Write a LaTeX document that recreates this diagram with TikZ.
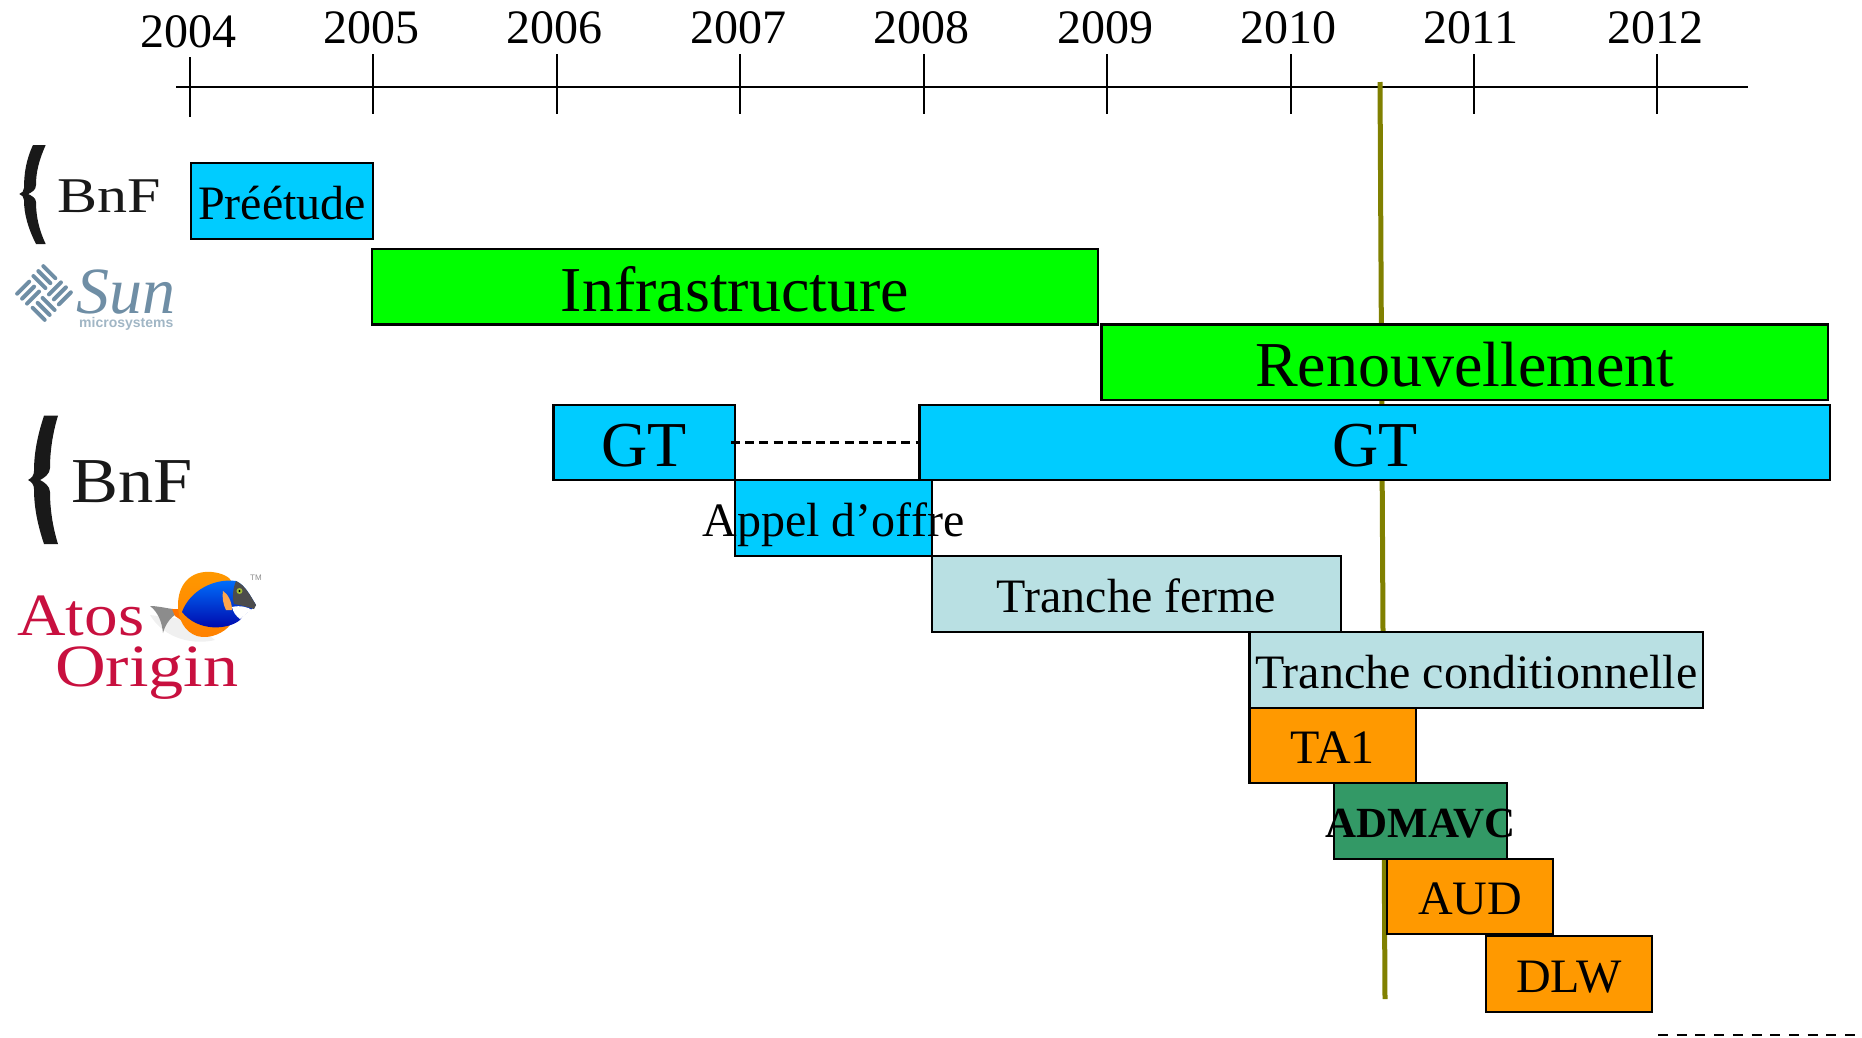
\documentclass[tikz,border=0pt]{standalone}
\usepackage{fontspec}
\setmainfont{Liberation Serif}
\newfontfamily\logosans{Liberation Sans}
\definecolor{barblue}{HTML}{00CCFF}
\definecolor{bargreen}{HTML}{00FF00}
\definecolor{barpale}{HTML}{B9E0E3}
\definecolor{barorange}{HTML}{FF9900}
\definecolor{bardark}{HTML}{339966}
\definecolor{todayline}{HTML}{808000}
\definecolor{suncol}{HTML}{6F8EA5}
\definecolor{atoscol}{HTML}{C8103F}
\newcommand{\fsmall}{\fontsize{48}{50}\selectfont}
\newcommand{\fbig}{\fontsize{64}{66}\selectfont}
\newcommand{\fbold}{\fontsize{43}{45}\selectfont\bfseries}
\newcommand{\ganttbar}[9]{%
  \pgfmathsetmacro{\gw}{#4-#2}\pgfmathsetmacro{\gh}{#5-#3}%
  \node[barbox,fill=#6,minimum width=\gw pt,minimum height=\gh pt,anchor=north west] (#1) at (#2,#3) {};
  \node[barlabel,font=#7] (#1text) at ({(#2+#4)/2},#8) {#9};
}
\tikzset{
  barbox/.style={draw=black,line width=2.4pt,inner sep=0pt,outer sep=0pt},
  barlabel/.style={anchor=base,inner sep=0pt,text=black},
  yearlabel/.style={anchor=base,inner sep=0pt,font=\fsmall},
  axisline/.style={draw=black,line width=2pt},
  dashline/.style={draw=black,line width=2.6pt},
  logotext/.style={anchor=base west,inner sep=0pt},
}
\begin{document}
\begin{tikzpicture}[x=1pt,y=-1pt]
\useasboundingbox (0,0) rectangle (1862,1037);
% time axis
\coordinate (axisL) at (176,87.3);
\coordinate (axisR) at (1748,87.3);
\draw[axisline] (axisL) -- (axisR);
\foreach \yr/\tx/\lx/\bl/\ta/\tb in {
  2004/190/188.5/47.5/57/117, 2005/373/371/43/54/114, 2006/557/554.6/43/54/114,
  2007/740/738/43/54/114, 2008/924/921.5/43/54/114, 2009/1107/1105/43/54/114,
  2010/1291/1288.5/43/54/114, 2011/1474/1471/43/54/114, 2012/1657/1655/43/54/114}{
  \node[yearlabel] (y\yr) at (\lx,\bl) {\yr};
  \coordinate (t\yr a) at (\tx,\ta);
  \coordinate (t\yr b) at (\tx,\tb);
  \draw[axisline] (t\yr a) -- (t\yr b);
}
% today line
\coordinate (todayT) at (1380,82);
\coordinate (todayB) at (1385,999);
\draw[todayline,line width=5pt] (todayT) -- (todayB);
% bars
\ganttbar{pre}{191}{163}{373}{239}{barblue}{\fsmall}{219}{Préétude}
\ganttbar{infra}{372}{249}{1098}{324.5}{bargreen}{\fbig}{311}{Infrastructure}
\ganttbar{renou}{1101.5}{324.5}{1828}{400}{bargreen}{\fbig}{386.5}{Renouvellement}
\ganttbar{gta}{553.5}{405}{735}{480}{barblue}{\fbig}{466}{GT}
\ganttbar{gtb}{919.5}{405}{1830}{480}{barblue}{\fbig}{466}{GT}
\ganttbar{appel}{735}{480}{932}{556}{barblue}{\fsmall}{536}{Appel d’offre}
\ganttbar{ferme}{932}{556}{1341}{632}{barpale}{\fsmall}{612}{Tranche ferme}
\ganttbar{cond}{1249.5}{632}{1703}{708}{barpale}{\fsmall}{688}{Tranche conditionnelle}
\ganttbar{taone}{1249.5}{708}{1416}{783}{barorange}{\fsmall}{763}{TA1}
\ganttbar{adm}{1334}{783}{1507}{859}{bardark}{\fbold}{837}{ADMAVC}
\ganttbar{aud}{1387}{859}{1553}{934}{barorange}{\fsmall}{914}{AUD}
\ganttbar{dlw}{1486}{936}{1652}{1012}{barorange}{\fsmall}{992}{DLW}
% dashed links
\draw[dashline,dash pattern=on 9pt off 5.2pt] ([xshift=-4pt]gta.east) -- (gtb.west);
\coordinate (dashL) at (1658,1035);
\coordinate (dashR) at (1855,1035);
\draw[dashline,dash pattern=on 10pt off 8.7pt] (dashL) -- (dashR);
% BnF logo, small
\fill[black!90] (33,145) -- (45.7,145) .. controls (39,160) and (36,172) .. (36,185)
  .. controls (36,190) and (32,192) .. (28.3,194) .. controls (32,196) and (36,198) .. (36,202)
  .. controls (36,216) and (39,230) .. (45.7,244) -- (36,244)
  .. controls (28,228) and (24,214) .. (24,200) .. controls (24,197) and (22,195) .. (19.3,194)
  .. controls (22,193) and (24,191) .. (24,188) .. controls (24,174) and (26,160) .. (33,145) -- cycle;
\node[logotext,text=black!90,font=\fontsize{50}{52}\selectfont] (bnfa) at (57,212) {\scalebox{1.2}[1]{BnF}};
% BnF logo, large
\fill[black!90] (44,415.7) -- (58,415.7) .. controls (53,432) and (50,450) .. (50,468)
  .. controls (50,474) and (44,478) .. (40,480) .. controls (44,482) and (50,486) .. (50,492)
  .. controls (50,510) and (53,528) .. (58,544) -- (44,544)
  .. controls (38,526) and (34,508) .. (34,489) .. controls (34,485) and (32,482) .. (28,480)
  .. controls (32,478) and (34,475) .. (34,471) .. controls (34,452) and (38,434) .. (44,415.7) -- cycle;
\node[logotext,text=black!90,font=\fontsize{64}{66}\selectfont] (bnfb) at (71,502) {\scalebox{1.1}[1]{BnF}};
% Sun logo
\begin{scope}[shift={(44,293)},rotate=45,suncol,line width=4pt,line cap=round]
  \foreach \d in {4.5,11.5,18.5}{
    \draw (2.5,\d) -- (19.5,\d);
    \draw (-2.5,-\d) -- (-19.5,-\d);
    \draw (\d,-2.5) -- (\d,-19.5);
    \draw (-\d,2.5) -- (-\d,19.5);
  }
\end{scope}
\node[logotext,text=suncol,font=\fontsize{66}{68}\selectfont\itshape] (sun) at (76,313) {Sun};
\node[logotext,text=suncol!65,font=\logosans\fontsize{14}{16}\selectfont\bfseries] (micro) at (79,327) {microsystems};
% Atos Origin logo
\node[logotext,text=atoscol,font=\fontsize{60}{62}\selectfont] (atos) at (17,635) {\scalebox{1.12}[1]{Atos}};
\node[logotext,text=atoscol,font=\fontsize{60}{62}\selectfont] (origin) at (55,686) {\scalebox{1.17}[1]{Origin}};
% fish
\fill[black!6] (150,615) .. controls (165,640) and (195,645) .. (215,640) -- (190,620) -- cycle;
\fill[black!45!white] (150,606) .. controls (158,606) and (165,608) .. (173,609) -- (176,614)
  .. controls (170,618) and (165,625) .. (163,633) .. controls (162,622) and (158,612) .. (150,606) -- cycle;
\fill[orange!90!red] (172,609) -- (184,609) -- (184,622) -- (175,616) -- cycle;
\shade[top color=orange!80!yellow,bottom color=orange] (178,605) .. controls (178,585) and (190,570) .. (212,572)
  .. controls (222,573) and (230,577) .. (232,582) -- (230,625)
  .. controls (225,632) and (210,640) .. (197,636) .. controls (185,632) and (178,620) .. (178,605) -- cycle;
\shade[top color=blue!55!cyan,bottom color=blue!65!black] (182,612) .. controls (190,590) and (215,578) .. (236,581)
  .. controls (245,585) and (250,595) .. (256,605) .. controls (250,612) and (245,612) .. (240,620)
  .. controls (228,630) and (198,632) .. (182,612) -- cycle;
\fill[white] (232,607) .. controls (240,605) and (248,607) .. (252,610)
  .. controls (247,612) and (244,616) .. (240,619) .. controls (236,616) and (233,612) .. (232,607) -- cycle;
\fill[black!70] (236,581) .. controls (245,585) and (250,595) .. (256,605) -- (254,609)
  .. controls (248,607) and (240,605) .. (234,604) .. controls (232,597) and (233,588) .. (236,581) -- cycle;
\fill[yellow!70!green!80!black] (239.5,591) circle (3);
\fill[black] (239.5,591) circle (1.2);
\fill[orange!70!white] (223,591) .. controls (228,594) and (232,602) .. (232,610) -- (226,610) .. controls (223,604) and (222,597) .. (223,591) -- cycle;
\node[logotext,text=black!45,font=\logosans\fontsize{8}{9}\selectfont] (tm) at (250,580) {TM};
\end{tikzpicture}
\end{document}
